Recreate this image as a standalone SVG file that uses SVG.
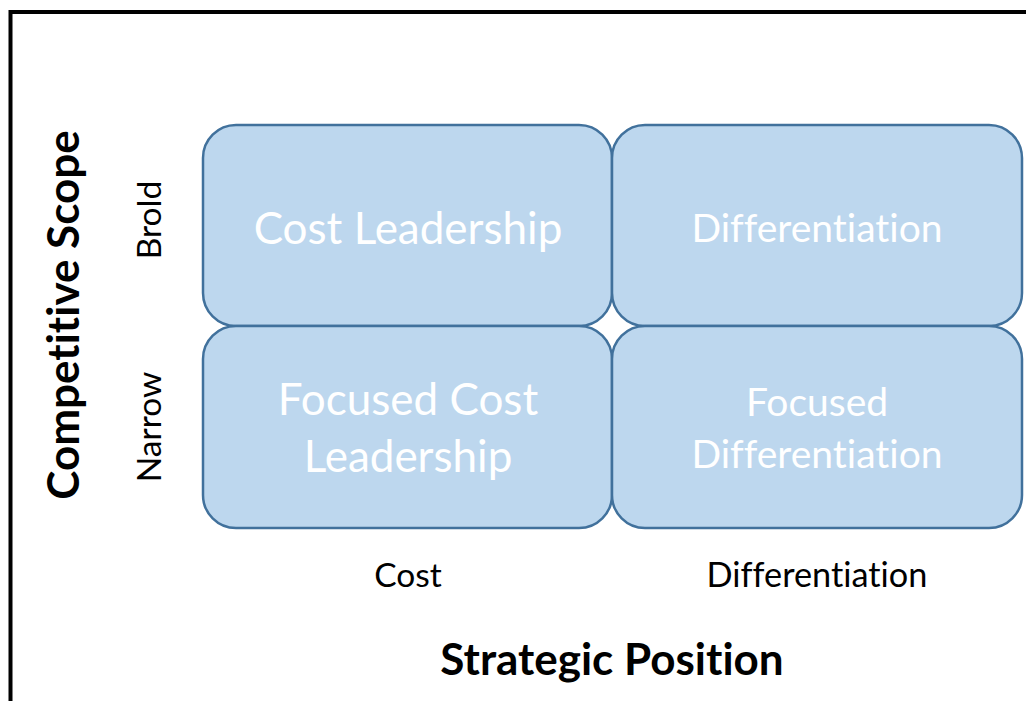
<svg xmlns="http://www.w3.org/2000/svg" width="1026" height="701" viewBox="0 0 1026 701">
<style>
text{font-family:Lato,"Liberation Sans",sans-serif;text-anchor:middle;font-variant-ligatures:none;font-feature-settings:"liga" 0}
.box{fill:#BDD7EE;stroke:#41719C;stroke-width:2.5}
.in{fill:#FFFFFF}
.lbl{fill:#000;font-size:33.5px}
.ttl{fill:#000;font-size:44px;font-weight:bold}
</style>
<rect width="1026" height="701" fill="#fff"/>
<g id="frame"><path d="M10.5 701 V12 H1026" fill="none" stroke="#000" stroke-width="4"/></g>
<g id="cost-leadership"><rect class="box" x="203" y="125" width="409" height="201" rx="33"/><text class="in" x="408" y="244" font-size="44">Cost Leadership</text></g>
<g id="differentiation"><rect class="box" x="612" y="125" width="410" height="201" rx="33"/><text class="in" x="817" y="242" font-size="39">Differentiation</text></g>
<g id="focused-cost-leadership"><rect class="box" x="203" y="326" width="409" height="202" rx="33"/><text class="in" x="408" y="415" font-size="44">Focused Cost</text><text class="in" x="408" y="472" font-size="44">Leadership</text></g>
<g id="focused-differentiation"><rect class="box" x="612" y="326" width="410" height="202" rx="33"/><text class="in" x="817" y="416" font-size="39">Focused</text><text class="in" x="817" y="468" font-size="39">Differentiation</text></g>
<g id="labels">
<text class="lbl" x="408" y="587">Cost</text>
<text class="lbl" x="817" y="587" style="font-size:34.3px">Differentiation</text>
<text class="ttl" x="612" y="675">Strategic Position</text>
<text class="ttl" transform="translate(79,315) rotate(-90)">Competitive Scope</text>
<text class="lbl" transform="translate(161,220) rotate(-90)">Brold</text>
<text class="lbl" transform="translate(161,427) rotate(-90)">Narrow</text>
</g>
<g id="connectors"/>
</svg>
